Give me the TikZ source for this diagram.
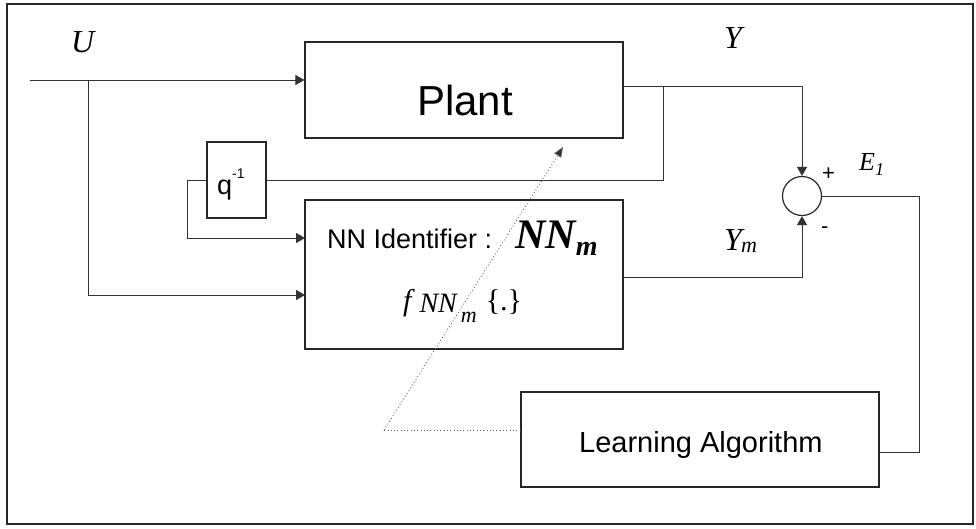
\documentclass[tikz,border=0pt]{standalone}
\usepackage{fontspec}
\setmainfont{Liberation Serif}
\newfontfamily\arial{Liberation Sans}
\usetikzlibrary{arrows.meta}

\begin{document}
\begin{tikzpicture}[x=1pt,y=-1pt,
  wire/.style={draw=black!80,line width=0.9pt},
  arr/.style={wire,-{Triangle[length=9pt,width=10pt]}},
  blockbox/.style={draw=black!85,line width=1.2pt,rectangle,inner sep=0pt},
  sumjunction/.style={draw=black!85,line width=1.2pt,circle,minimum size=39pt,inner sep=0pt},
  probe/.style={draw=black!65,line width=0.8pt,dash pattern=on 0.9pt off 2.4pt,
    -{Triangle[length=10pt,width=8pt,fill=black!80]}},
  probeline/.style={draw=black!65,line width=0.8pt,dash pattern=on 0.9pt off 2.4pt},
  txt/.style={inner sep=0pt,anchor=base west},
  frame/.style={draw=black!85,line width=1.3pt}
]
\path[use as bounding box] (0,0) rectangle (976,528);
\draw[frame] (7,4) rectangle (973,524);

% blocks
\node[blockbox,minimum width=318pt,minimum height=96pt] (plant) at (464,90) {};
\node[blockbox,minimum width=318pt,minimum height=149pt] (nn) at (464,274.5) {};
\node[blockbox,minimum width=59pt,minimum height=76pt] (delay) at (236.5,180) {};
\node[blockbox,minimum width=358pt,minimum height=95pt] (learn) at (700,439.5) {};
\node[sumjunction] (sum) at (802,196) {};

% block texts
\node[txt] (plantlbl) at (417,115) {\arial\fontsize{42}{42}\selectfont Plant};
\node[txt] (nnlbl) at (327,248) {\arial\fontsize{27}{27}\selectfont NN Identifier :};
\node[txt] (nnsym) at (515,248) {\fontsize{42}{42}\selectfont\bfseries\itshape NN\raisebox{-7pt}{\fontsize{28}{28}\selectfont m}};
\node[txt] (nnfunc) at (403,310) {\fontsize{30}{30}\selectfont\itshape f\kern8pt\raisebox{-2pt}{\fontsize{28}{28}\selectfont NN}\kern4pt\raisebox{-12pt}{\fontsize{22}{22}\selectfont m}\upshape\kern9pt\fontsize{30}{30}\selectfont\{.\}};
\node[txt] (qlbl) at (217,194) {\arial\fontsize{27}{27}\selectfont q\raisebox{16pt}{\fontsize{14}{14}\selectfont -1}};
\node[txt] (learnlbl) at (579,452) {\arial\fontsize{29}{29}\selectfont Learning Algorithm};

% signal labels
\node[txt] (ulbl) at (71,52) {\fontsize{32}{32}\selectfont\itshape U};
\node[txt] (ylbl) at (724,48) {\fontsize{32}{32}\selectfont\itshape Y};
\node[txt] (ymlbl) at (724,250) {\fontsize{32}{32}\selectfont\itshape Y\kern-1pt\raisebox{-2pt}{\fontsize{22}{22}\selectfont m}};
\node[txt] (elbl) at (859,170) {\fontsize{26}{26}\selectfont\itshape E\raisebox{-5pt}{\fontsize{18}{18}\selectfont 1}};
\node[txt] (plus) at (822,180) {\arial\fontsize{22}{22}\selectfont +};
\node[txt] (minus) at (821,233) {\arial\fontsize{22}{22}\selectfont -};

% connection points
\coordinate (uin) at (30,80);
\coordinate (usplit) at (88,80);
\coordinate (nnu) at (305,295);
\coordinate (nnq) at (305,238);
\coordinate (qturn) at (187,180);
\coordinate (yout) at (623,86);
\coordinate (ytap) at (663,86);
\coordinate (ymout) at (623,277);
\coordinate (ecorner) at (919,452);
\coordinate (tunepoint) at (384,430);
\coordinate (tunetip) at (563,147);

% signal paths
\draw[arr] (uin) -- (uin -| plant.west);
\draw[arr] (usplit) |- (nnu);
\draw[arr] (yout) -| (sum.north);
\draw[wire] (ytap) |- (delay.east);
\draw[arr] (delay.west) -- (qturn) |- (nnq);
\draw[arr] (ymout) -| (sum.south);
\draw[wire] (sum.east) -| (ecorner) -- (ecorner -| learn.east);

% parameter adaptation
\draw[probeline] (tunepoint -| learn.west) -- (tunepoint);
\draw[probe] (tunepoint) -- (tunetip);
\end{tikzpicture}
\end{document}
